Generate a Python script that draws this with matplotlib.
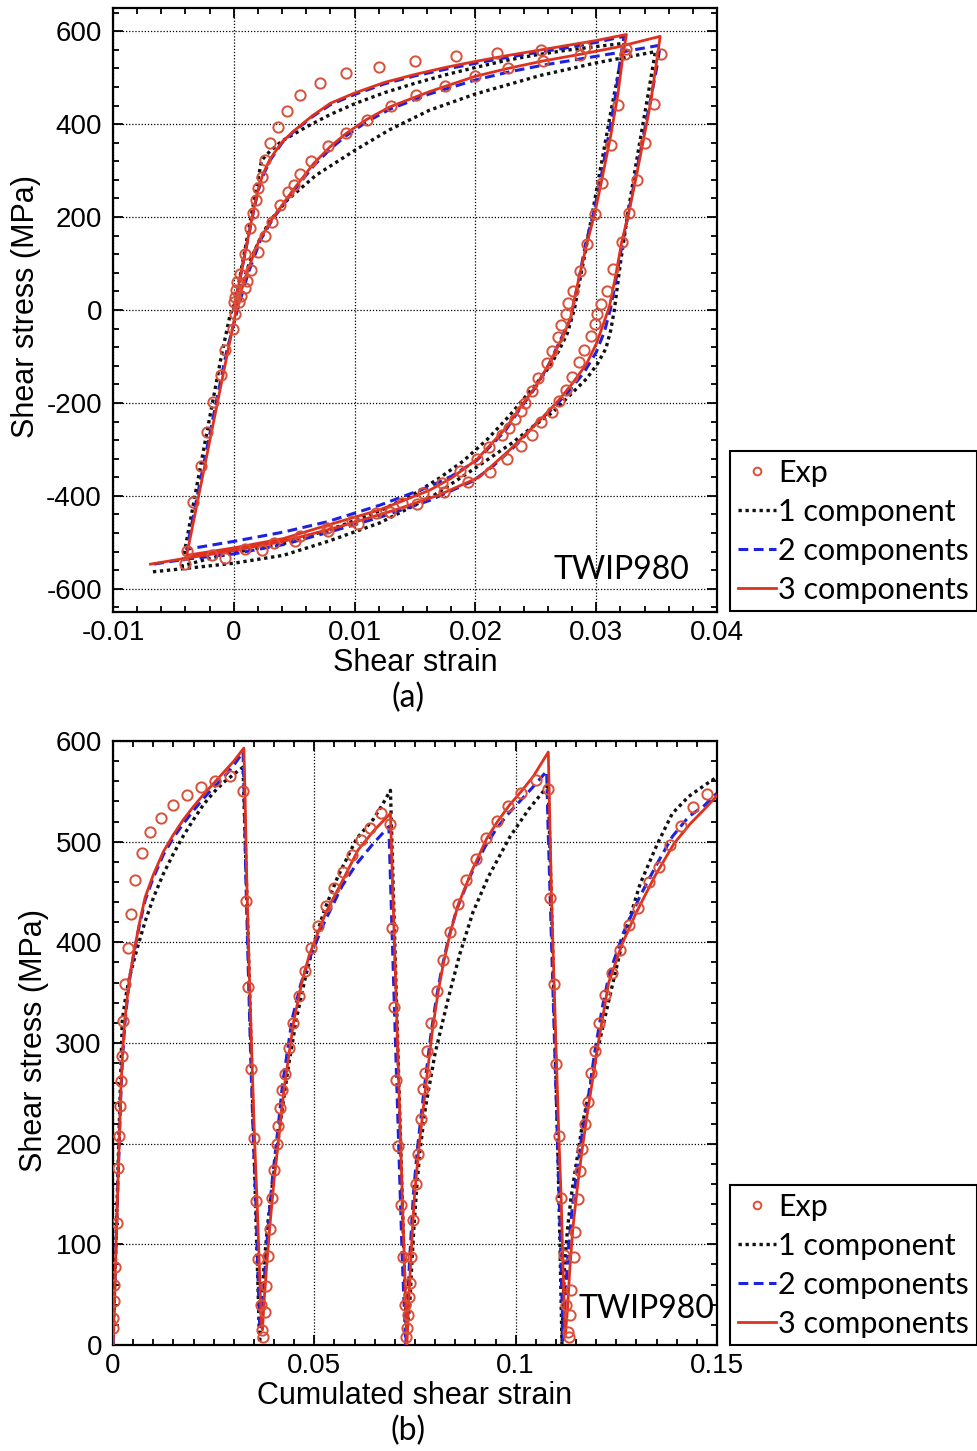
import numpy as np
import matplotlib
matplotlib.use("Agg")
import matplotlib.pyplot as plt
from matplotlib.ticker import MultipleLocator, FixedLocator, FixedFormatter

# ---------------- data: shear strain / shear stress (MPa) ----------------
exp_strain = [0.0, 0.0001, 0.0002, 0.0003, 0.0005, 0.0009, 0.0013, 0.0016, 0.0018, 0.002, 0.0023,
              0.0026, 0.003, 0.0037, 0.0044, 0.0055, 0.0071, 0.0093, 0.012, 0.015, 0.0184, 0.0218,
              0.0254, 0.0291, 0.0324,
              0.0318, 0.0312, 0.0305, 0.0299, 0.0292, 0.0287, 0.0281, 0.0277, 0.0275,
              0.0271, 0.0268, 0.0263, 0.0259, 0.0252, 0.0247, 0.0241, 0.0238, 0.0233, 0.0228,
              0.0222, 0.0211, 0.0201, 0.0187, 0.0172, 0.0157, 0.0139, 0.0118, 0.0098, 0.0077,
              0.0055, 0.0033, 0.0009, -0.0018, -0.0039,
              -0.0034, -0.0027, -0.0022, -0.0017, -0.0011, -0.0007, -0.0001, 0.0001, 0.0004,
              0.0006, 0.0009, 0.0011, 0.0014, 0.002, 0.0026, 0.0032, 0.0038, 0.0045, 0.005,
              0.0055, 0.0064, 0.0078, 0.0093, 0.011, 0.013, 0.0151, 0.0175, 0.02, 0.0227,
              0.0256, 0.0287, 0.0325, 0.0354,
              0.0348, 0.034, 0.0334, 0.0327, 0.0321, 0.0314, 0.0309, 0.0304, 0.0301,
              0.0299, 0.0296, 0.029, 0.0286, 0.028, 0.0275, 0.0269, 0.0263, 0.0254, 0.0247,
              0.0238, 0.0226, 0.0212, 0.0194, 0.0174, 0.0152, 0.0129, 0.0103, 0.0078, 0.0051,
              0.0023, -0.0007, -0.004]
exp_stress = [17, 27, 44, 60, 77, 121, 176, 208, 237, 262, 287,
              322, 359, 394, 428, 462, 489, 510, 524, 536, 546, 554,
              560, 565, 550,
              441, 356, 274, 206, 143, 85, 40, 15, -8,
              -33, -59, -88, -115, -146, -174, -200, -218, -235, -253,
              -269, -295, -320, -347, -372, -394, -416, -436, -454, -470,
              -487, -502, -514, -528, -518,
              -414, -336, -263, -198, -139, -87, -40, -8, 17,
              30, 48, 62, 87, 124, 160, 190, 225, 254, 270,
              292, 320, 352, 382, 410, 438, 462, 483, 504, 521,
              535, 548, 561, 552,
              444, 359, 279, 208, 146, 89, 40, 13, -8,
              -30, -55, -87, -112, -145, -173, -195, -220, -241, -270,
              -292, -320, -348, -370, -392, -417, -434, -460, -475, -497,
              -516, -534, -547]

# 1 component model (black dotted)
m1_strain = [0.0, 0.0008, 0.0016, 0.0023, 0.003, 0.004, 0.006, 0.008, 0.0101, 0.0125, 0.015,
             0.0175, 0.02, 0.0225, 0.025, 0.0275, 0.03, 0.0323,
             0.0318, 0.0312, 0.0305, 0.0298, 0.0291, 0.0285, 0.0282, 0.0276, 0.0269, 0.0261,
             0.025, 0.0239, 0.0228, 0.021, 0.019, 0.017, 0.0148, 0.0121, 0.0088, 0.0041,
             0.0, -0.0022, -0.0043,
             -0.003, -0.002, -0.001, -0.0003, 0.0005, 0.001, 0.0015, 0.0022, 0.003, 0.0044, 0.0068,
             0.0101, 0.0129, 0.0162, 0.02, 0.0254, 0.03, 0.0349,
             0.0345, 0.034, 0.0333, 0.0326, 0.032, 0.0315, 0.0312, 0.0308, 0.0301, 0.0292,
             0.0278, 0.0264, 0.0247, 0.0231, 0.02, 0.0165, 0.0121, 0.0079, 0.0041, 0.0,
             -0.0039, -0.0069]
m1_stress = [0, 112, 225, 322, 342, 364, 394, 421, 445, 468, 488,
             506, 522, 537, 549, 559, 567, 574,
             505, 425, 325, 225, 125, 45, 2, -51, -88, -123,
             -160, -194, -228, -278, -325, -362, -398, -432, -465, -503,
             -522, -536, -551,
             -370, -232, -95, -10, 40, 80, 115, 155, 192, 236, 290,
             345, 388, 430, 465, 505, 532, 556,
             495, 420, 315, 205, 100, 0, -44, -83, -116, -148,
             -184, -220, -252, -285, -340, -400, -458, -497, -528, -545,
             -556, -564]

# 2 components model (blue dashed)
m2_strain = [0.0, 0.0008, 0.0016, 0.002, 0.0024, 0.003, 0.004, 0.005, 0.0065, 0.008, 0.01,
             0.0125, 0.015, 0.0175, 0.02, 0.0225, 0.025, 0.0275, 0.03, 0.0323,
             0.032, 0.0316, 0.031, 0.0304, 0.0298, 0.0291, 0.0286, 0.0282, 0.0279, 0.0274,
             0.0269, 0.0261, 0.025, 0.0236, 0.0225, 0.0201, 0.018, 0.0162, 0.0121, 0.0077,
             0.0041, 0.0, -0.0039,
             -0.0028, -0.0017, -0.0006, 0.0003, 0.0008, 0.0012, 0.0017, 0.0022, 0.0032, 0.0049,
             0.0066, 0.008, 0.0093, 0.011, 0.0129, 0.0162, 0.02, 0.0227, 0.0256, 0.0286,
             0.0316, 0.0353,
             0.035, 0.0344, 0.0338, 0.0332, 0.0326, 0.032, 0.0316, 0.0312, 0.0307, 0.03,
             0.029, 0.0278, 0.0264, 0.025, 0.0234, 0.0215, 0.0198, 0.0162, 0.0121, 0.0079,
             0.0041, 0.0, -0.0039, -0.0069]
m2_stress = [0, 105, 208, 255, 288, 322, 360, 385, 416, 442, 464,
             487, 504, 518, 531, 543, 554, 564, 576, 589,
             540, 462, 372, 285, 210, 140, 70, 22, -18, -45,
             -72, -116, -166, -216, -259, -324, -358, -380, -420, -456,
             -478, -498, -515,
             -372, -230, -90, 0, 45, 80, 115, 150, 195, 255,
             310, 347, 375, 405, 432, 465, 495, 512, 527, 540,
             553, 570,
             520, 440, 360, 280, 200, 120, 60, 5, -45, -91,
             -134, -173, -212, -245, -290, -335, -368, -410, -446, -478,
             -505, -525, -536, -548]

# 3 components model (red solid)
m3_strain = [0.0, 0.0008, 0.0016, 0.002, 0.0024, 0.003, 0.004, 0.005, 0.0065, 0.008, 0.01,
             0.0125, 0.015, 0.0175, 0.02, 0.0225, 0.025, 0.0275, 0.03, 0.0325,
             0.0322, 0.0318, 0.0312, 0.0305, 0.0299, 0.0292, 0.0286, 0.0282, 0.0279, 0.0274,
             0.0269, 0.0261, 0.025, 0.0236, 0.0225, 0.0201, 0.018, 0.0162, 0.0121, 0.0079,
             0.0041, 0.0, -0.0039,
             -0.0028, -0.0018, -0.0008, 0.0002, 0.0006, 0.001, 0.0015, 0.0021, 0.0032, 0.0049,
             0.0066, 0.008, 0.0093, 0.011, 0.0129, 0.0162, 0.02, 0.0227, 0.0256, 0.0286,
             0.0316, 0.0353,
             0.035, 0.0345, 0.0339, 0.0333, 0.0327, 0.0321, 0.0316, 0.0311, 0.0305, 0.03,
             0.0292, 0.028, 0.0269, 0.0256, 0.0242, 0.0228, 0.0203, 0.017, 0.0134, 0.0088,
             0.0041, 0.0, -0.0039, -0.0069]
m3_stress = [0, 105, 210, 258, 292, 325, 362, 386, 418, 445, 467,
             490, 507, 522, 535, 547, 558, 569, 580, 593,
             545, 465, 375, 285, 210, 140, 72, 25, -15, -48,
             -75, -116, -164, -214, -255, -322, -362, -388, -430, -462,
             -492, -512, -528,
             -386, -257, -128, 0, 40, 72, 110, 150, 197, 258,
             315, 352, 380, 410, 437, 470, 503, 520, 536, 550,
             565, 589,
             535, 445, 365, 285, 210, 145, 72, 8, -37, -73,
             -116, -159, -194, -230, -266, -302, -360, -398, -430, -466,
             -498, -518, -534, -547]

labels = ["Exp", "1 component", "2 components", "3 components"]

# axis ticks
a_xticks = [-0.01, 0.0, 0.01, 0.02, 0.03, 0.04]
a_xticklabels = ["-0.01", "0", "0.01", "0.02", "0.03", "0.04"]
a_yticks = [-600, -400, -200, 0, 200, 400, 600]
b_xticks = [0.0, 0.05, 0.1, 0.15]
b_xticklabels = ["0", "0.05", "0.1", "0.15"]
b_yticks = [0, 100, 200, 300, 400, 500, 600]


def cumulated(strain, stress):
    s = np.asarray(strain, dtype=float)
    c = np.concatenate([[0.0], np.cumsum(np.abs(np.diff(s)))])
    return c, np.abs(np.asarray(stress, dtype=float))


# ---------------- styling ----------------
EXP_C = "#d9503a"
RED = "#e0301e"
BLUE = "#1c22e0"
BLACK = "#111111"
TICKFONT = "Liberation Sans"
TEXTFONT = "Lato"

plt.rcParams["font.family"] = [TICKFONT, "DejaVu Sans"]
plt.rcParams["axes.unicode_minus"] = False

fig = plt.figure(figsize=(9.77, 14.51), dpi=100)
axa = fig.add_axes([113 / 977, 839 / 1451, 604 / 977, 604 / 1451])
axb = fig.add_axes([113 / 977, 106 / 1451, 604 / 977, 604 / 1451])


def draw(ax, ex, ey, series):
    handles = []
    h0, = ax.plot(ex, ey, linestyle="none", marker="o", markersize=7.4,
                  markerfacecolor="none", markeredgecolor=EXP_C, markeredgewidth=1.4, zorder=5)
    handles.append(h0)
    (x1, y1), (x2, y2), (x3, y3) = series
    h1, = ax.plot(x1, y1, color=BLACK, lw=2.4, linestyle=(0, (1, 1.1)), zorder=3)
    h2, = ax.plot(x2, y2, color=BLUE, lw=2.2, linestyle=(0, (3.2, 1.8)), zorder=4)
    h3, = ax.plot(x3, y3, color=RED, lw=2.0, zorder=4)
    handles += [h1, h2, h3]
    return handles


def style(ax):
    for sp in ax.spines.values():
        sp.set_linewidth(1.6)
    ax.tick_params(which="both", direction="in", top=True, right=True, width=1.3,
                   labelsize=20, colors="black")
    ax.tick_params(axis="y", pad=8)
    ax.tick_params(axis="x", pad=6)
    ax.tick_params(which="major", length=7)
    ax.tick_params(which="minor", length=4)
    ax.grid(True, which="major", color="black", linestyle=(0, (1, 1.5)), linewidth=0.9)
    ax.set_axisbelow(False)


# ----- panel (a)
ha = draw(axa, exp_strain, exp_stress,
          [(m1_strain, m1_stress), (m2_strain, m2_stress), (m3_strain, m3_stress)])
axa.set_xlim(-0.01, 0.04)
axa.set_ylim(-650, 650)
axa.xaxis.set_major_locator(FixedLocator(a_xticks))
axa.xaxis.set_major_formatter(FixedFormatter(a_xticklabels))
axa.xaxis.set_minor_locator(MultipleLocator(0.002))
axa.yaxis.set_major_locator(FixedLocator(a_yticks))
axa.yaxis.set_minor_locator(MultipleLocator(40))
style(axa)
axa.text(0.955, 0.045, "TWIP980", transform=axa.transAxes, ha="right", va="bottom",
         fontsize=23, family=TEXTFONT)

# ----- panel (b)
bx, by = cumulated(exp_strain, exp_stress)
b1 = cumulated(m1_strain, m1_stress)
b2 = cumulated(m2_strain, m2_stress)
b3 = cumulated(m3_strain, m3_stress)
hb = draw(axb, bx, by, [b1, b2, b3])
axb.set_xlim(0, 0.15)
axb.set_ylim(0, 600)
axb.xaxis.set_major_locator(FixedLocator(b_xticks))
axb.xaxis.set_major_formatter(FixedFormatter(b_xticklabels))
axb.xaxis.set_minor_locator(MultipleLocator(0.005))
axb.yaxis.set_major_locator(FixedLocator(b_yticks))
axb.yaxis.set_minor_locator(MultipleLocator(20))
style(axb)
axb.text(0.995, 0.035, "TWIP980", transform=axb.transAxes, ha="right", va="bottom",
         fontsize=23, family=TEXTFONT)

# ----- labels
fig.text(26 / 977, 1 - 307 / 1451, "Shear stress (MPa)", rotation=90, ha="center", va="center",
         fontsize=22)
fig.text(34 / 977, 1 - 1040 / 1451, "Shear stress (MPa)", rotation=90, ha="center", va="center",
         fontsize=22)
fig.text(415 / 977, 1 - 663 / 1451, "Shear strain", ha="center", va="center", fontsize=22)
fig.text(415 / 977, 1 - 1396 / 1451, "Cumulated shear strain", ha="center", va="center", fontsize=22)
fig.text(408 / 977, 1 - 698 / 1451, "(a)", ha="center", va="center", fontsize=23, family=TEXTFONT)
fig.text(408 / 977, 1 - 1431 / 1451, "(b)", ha="center", va="center", fontsize=23, family=TEXTFONT)

# ----- legends
for handles, top in ((ha, 451), (hb, 1185)):
    leg = fig.legend(handles, labels, loc="upper left",
                     bbox_to_anchor=(730 / 977, 1 - top / 1451), borderaxespad=0,
                     frameon=True, fancybox=False, edgecolor="black", framealpha=1,
                     prop={"family": TEXTFONT, "size": 22}, handlelength=1.25,
                     handletextpad=0.08, labelspacing=0.36, borderpad=0.25, markerscale=0.75)
    leg.get_frame().set_linewidth(1.5)

fig.savefig("out.png", dpi=100)
